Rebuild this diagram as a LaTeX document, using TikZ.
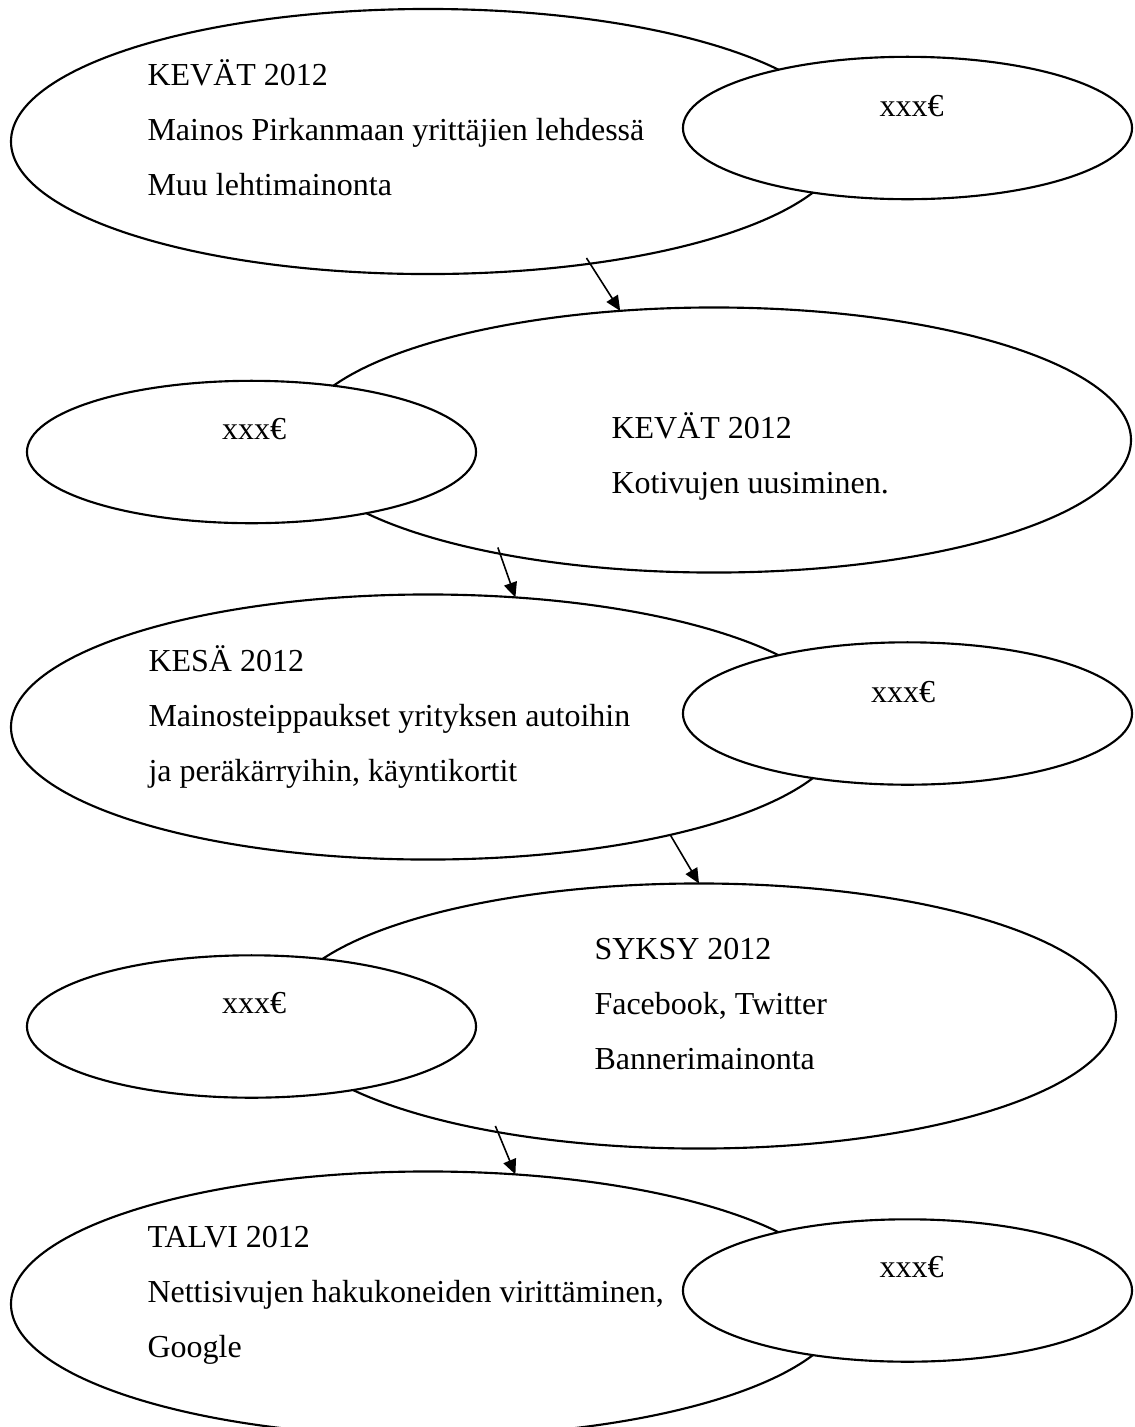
\documentclass[tikz,border=0pt]{standalone}
\usepackage{fontspec}
\setmainfont{Liberation Serif}
\usetikzlibrary{arrows.meta,shapes.geometric}

\newcommand{\planfont}{\fontsize{12}{20.7}\selectfont}

\begin{document}
\begin{tikzpicture}[
    x=0.375pt, y=-0.375pt,
    season/.style={draw, ellipse, line width=0.8pt, fill=white, inner sep=0pt, outer sep=0pt, minimum width=312.75pt, minimum height=99.4pt},
    cost/.style={draw, ellipse, line width=0.8pt, fill=white, inner sep=0pt, outer sep=0pt, minimum width=168.4pt, minimum height=53.4pt},
    plan/.style={anchor=north west, align=left, inner sep=0pt, font=\planfont},
    price/.style={anchor=base, inner sep=0pt, font=\planfont},
    arrow/.style={-{Triangle[length=5.6pt, width=5pt]}, line width=0.6pt, shorten <=-2.5pt}
]
\useasboundingbox (0,0) rectangle (1135,1427);

% ellipses, the small cost ellipse lies over the big one
\node[season] (spring) at (428,141.5) {};
\node[cost] (springcost) at (907.5,128) {};
\node[season] (web) at (714,440) {};
\node[cost] (webcost) at (251.5,452) {};
\node[season] (summer) at (428,727) {};
\node[cost] (summercost) at (907.5,713.5) {};
\node[season] (autumn) at (699,1016) {};
\node[cost] (autumncost) at (251.5,1026.5) {};
\node[season] (winter) at (428,1304) {};
\node[cost] (wintercost) at (907.5,1290.5) {};

% texts
\node[plan] (springtext) at (147,46.4) {\strut KEVÄT 2012\\Mainos Pirkanmaan yrittäjien lehdessä\\Muu lehtimainonta};
\node[plan] (webtext) at (611,399.4) {\strut KEVÄT 2012\\Kotivujen uusiminen.};
\node[plan] (summertext) at (148,632.4) {\strut KESÄ 2012\\Mainosteippaukset yrityksen autoihin\\ja peräkärryihin, käyntikortit};
\node[plan] (autumntext) at (594,920.4) {\strut SYKSY 2012\\Facebook, Twitter\\Bannerimainonta};
\node[plan] (wintertext) at (147,1208.4) {\strut TALVI 2012\\Nettisivujen hakukoneiden virittäminen,\\Google};

\node[price] (springprice) at (911.5,116) {xxx€};
\node[price] (webprice) at (254,439) {xxx€};
\node[price] (summerprice) at (903,702) {xxx€};
\node[price] (autumnprice) at (254,1013) {xxx€};
\node[price] (winterprice) at (911.5,1277) {xxx€};

% arrows
\draw[arrow] (spring.-37) -- (web.126);
\draw[arrow] (web.208) -- (summer.56);
\draw[arrow, shorten <=0pt] (summer.-24) -- (autumn.90);
\draw[arrow] (autumn.210) -- (winter.56);
\end{tikzpicture}
\end{document}
